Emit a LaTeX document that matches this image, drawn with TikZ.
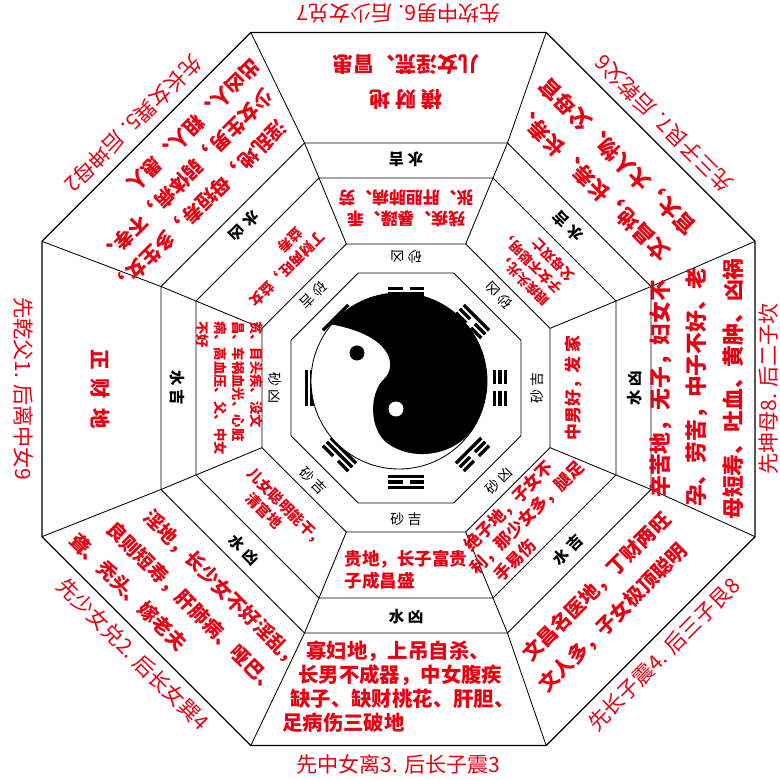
\documentclass[tikz,border=0pt]{standalone}
\usepackage{fontspec}
\setmainfont{Noto Sans CJK SC}
\usetikzlibrary{calc}
\definecolor{hong}{RGB}{230,0,18}
\tikzset{
  biaoti/.style={text=hong,font=\fontsize{15}{17}\selectfont,inner sep=0pt},
  duan/.style={text=hong,font=\bfseries\fontsize{14.5}{20}\selectfont,align=left,inner sep=0pt},
  nei/.style={text=hong,font=\bfseries\fontsize{10.5}{13}\selectfont,align=left,inner sep=0pt},
  shui/.style={font=\bfseries\fontsize{11}{13}\selectfont,inner sep=0pt},
  sha/.style={font=\fontsize{10}{12}\selectfont,inner sep=0pt},
  yao/.style={line width=2.4pt}
}
\begin{document}
\begin{tikzpicture}[x=0.025cm,y=0.025cm,line width=0.6pt]
\useasboundingbox (-406,-392) rectangle (374,388);
\coordinate (O) at (0,0);
\coordinate (W) at (-7.5,-1);
\foreach \k in {0,...,7}{
  \coordinate (A\k) at ({22.5+45*\k}:124.5);
  \coordinate (B\k) at ({22.5+45*\k}:155.9);
  \coordinate (C\k) at ({22.5+45*\k}:227.3);
  \coordinate (D\k) at ({22.5+45*\k}:265.2);
  \coordinate (E\k) at ($(W)+({22.5+45*\k}:385.9)$);
}
\foreach \r in {A,B,C,D}
  \draw (\r0)--(\r1)--(\r2)--(\r3)--(\r4)--(\r5)--(\r6)--(\r7)--cycle;
\draw[line width=0.9pt] (E0)--(E1)--(E2)--(E3)--(E4)--(E5)--(E6)--(E7)--cycle;
\foreach \k in {0,...,7} \draw (B\k)--(C\k)--(D\k)--(E\k);

\foreach \ang/\a/\b/\c in {0/0/0/0,45/0/0/1,90/0/1/0,135/0/1/1,180/1/1/1,225/1/1/0,270/1/0/1,315/1/0/0}
  \foreach \r/\s in {88.5/\a,94/\b,99.5/\c}{
    \ifnum\s=1
      \draw[yao] ($(\ang:\r)+({\ang+90}:18)$)--($(\ang:\r)+({\ang-90}:18)$);
    \else
      \draw[yao] ($(\ang:\r)+({\ang+90}:18)$)--($(\ang:\r)+({\ang+90}:3.5)$)
                 ($(\ang:\r)+({\ang-90}:3.5)$)--($(\ang:\r)+({\ang-90}:18)$);
    \fi
  }

\begin{scope}[shift={(-7,7)}]
  \draw[fill=white] (0,0) circle (88);
  \fill (-35:88) .. controls (52,-76) and (12,-80) .. (-12,-62)
        .. controls (-30,-48) and (-30,-12) .. (-15,2)
        .. controls (-2,14) and (-5,45) .. (140:88)
        arc[start angle=140,end angle=-35,radius=88]--cycle;
  \fill[white] (-3,-28) circle (7.5);
  \fill (-42,28) circle (7.5);
\end{scope}

\foreach \ang/\t in {0/砂\ 吉,45/砂\ 凶,90/砂\ 凶,135/砂\ 吉,180/砂\ 凶,225/砂\ 吉,270/砂\ 吉,315/砂\ 凶}
  \node[sha,rotate=\ang+90] (sha\ang) at (\ang:131) {\t};
\foreach \ang/\t in {0/水\ 凶,45/水\ 吉,90/水\ 吉,135/水\ 凶,180/水\ 吉,225/水\ 凶,270/水\ 凶,315/水\ 吉}
  \node[shui,rotate=\ang+90] (shui\ang) at (\ang:229) {\t};
\foreach \ang/\rr/\t in {0/370/先坤母8. 后二子坎,45/375/先三子艮7. 后乾父6,90/375/先坎中男6. 后少女兑7,
    135/375/先长女巽5. 后坤母2,180/375/先乾父1. 后离中女9,225/375/先少女兑2. 后长女巽4,
    270/375/先中女离3. 后长子震3,315/375/先长子震4. 后三子艮8}
  \node[biaoti,rotate=\ang+90] (gua\ang) at ($(W)+(\ang:\rr)$) {\t};

\node[duan,rotate=270] (wai180) at ($(W)+(180:298)$) {正\ \ 财\ \ 地};
\node[duan,rotate=180,align=center,font=\bfseries\fontsize{15}{25}\selectfont] (wai90) at (90:306)
  {横\ 财\ 地\\儿女淫荒、冒患};
\node[duan,rotate=90,font=\bfseries\fontsize{15.5}{26}\selectfont] (wai0) at ($(W)+(0:298)$)
  {\hspace*{5.5mm}辛苦地，无子，妇女不\\\hspace*{3.2mm}孕、劳苦，中子不好、老\\母短寿、吐血、黄肿、凶祸};
\node[duan,rotate=0,font=\bfseries\fontsize{14.5}{17}\selectfont] (wai270) at ($(W)+(270:298)$)
  {\hspace*{6mm}寡妇地，上吊自杀、\\\hspace*{4mm}长男不成器，中女腹疾\\\hspace*{2mm}缺子、缺财桃花、肝胆、\\足病伤三破地};
\node[duan,rotate=315,font=\bfseries\fontsize{13.8}{24.5}\selectfont] (wai225) at ($(W)+(225:300)$)
  {\hspace*{9mm}淫地，长少女不好淫乱，\\\hspace*{4.5mm}良则短寿，肝肺病、哑巴、\\聋、秃头、嫁老夫};
\node[duan,rotate=45,font=\bfseries\fontsize{14.2}{24}\selectfont] (wai315) at ($(W)+(315:297)$)
  {文昌名医地，丁财两旺\\\hspace*{-2.5mm}文人多，子女极顶聪明};
\node[duan,rotate=135,align=center,font=\bfseries\fontsize{15}{26}\selectfont] (wai45) at ($(45:295)+(135:14)$)
  {文昌地，长寿、长寿、\\官大，大人物、父母官};
\node[duan,rotate=225,font=\bfseries\fontsize{14}{22}\selectfont] (wai135) at ($(W)+(135:300)$)
  {\hspace*{6mm}淫乱地，母短寿，多生女，\\\hspace*{3mm}少女生男，弱体病，不孝、\\出凶人、粗人、愚人};

\node[nei,rotate=270,font=\bfseries\fontsize{9.5}{12.8}\selectfont] (nei180) at (180:176)
  {贫、目头疾、没文\\昌、车祸血光、心脏\\病、高血压、父、中女\\不好};
\node[nei,rotate=315] (nei225) at (225:178) {儿女聪明能干，\\\hspace*{4mm}清官地};
\node[nei,rotate=0,font=\bfseries\fontsize{12.5}{16}\selectfont] (nei270) at (270:182) {贵地，长子富贵\\子成昌盛};
\node[nei,rotate=45,font=\bfseries\fontsize{12}{15}\selectfont] (nei315) at (315:177)
  {绝子地，子女不\\\hspace*{-3mm}利，那少女多，腿足\\手易伤};
\node[nei,rotate=90,font=\bfseries\fontsize{12}{15}\selectfont] (nei0) at (0:167) {中男好，发\ 家};
\node[nei,rotate=135,font=\bfseries\fontsize{9.5}{12.5}\selectfont] (nei45) at (45:177)
  {眼疾头光，\\子女不聪明，\\父母双亡};
\node[nei,rotate=180,align=center,font=\bfseries\fontsize{12}{15}\selectfont] (nei90) at (90:180)
  {残疾、暴躁、乖\\张、肝胆肺病、劳};
\node[nei,rotate=225,font=\bfseries\fontsize{10}{13}\selectfont] (nei135) at (135:177)
  {丁财两旺，益女\\\hspace*{3mm}益寿};
\end{tikzpicture}
\end{document}
